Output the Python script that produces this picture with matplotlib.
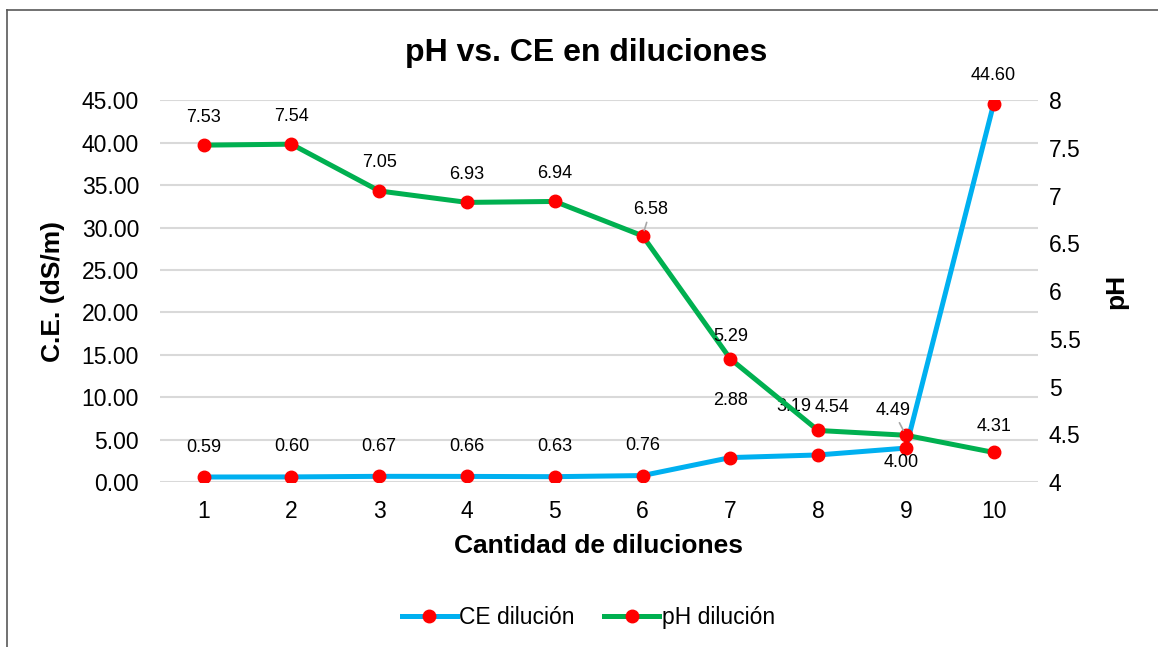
import matplotlib.pyplot as plt
from matplotlib.lines import Line2D

plt.rcParams['font.family'] = ['Liberation Sans', 'DejaVu Sans']

diluciones = [1, 2, 3, 4, 5, 6, 7, 8, 9, 10]
ce = [0.59, 0.60, 0.67, 0.66, 0.63, 0.76, 2.88, 3.19, 4.00, 44.60]
ph = [7.53, 7.54, 7.05, 6.93, 6.94, 6.58, 5.29, 4.54, 4.49, 4.31]

# label offsets in pixels (dx, dy)
ce_off = [(0, 30)] * 6 + [(0, 57), (-24, 48), (-5, -14), (0, 28)]
ph_off = [(0, 28)] * 5 + [(8, 26), (0, 22), (14, 23), (-13, 25), (0, 26)]
ph_leader = [5, 8]

blue = '#00b0f0'
green = '#00b050'
grid_c = '#d9d9d9'

fig = plt.figure(figsize=(11.58, 6.47), dpi=100)
ax = fig.add_axes([0.138, 0.255, 0.758, 0.59])
ax2 = ax.twinx()

ax.plot(diluciones, ce, color=blue, lw=3.6, marker='o', ms=9,
        mfc='red', mec='red', zorder=3)
ax2.plot(diluciones, ph, color=green, lw=3.6, marker='o', ms=9,
         mfc='red', mec='red', zorder=3)

ax.set_ylim(0, 45)
ax.set_yticks(range(0, 46, 5))
ax.set_yticklabels(['%.2f' % v for v in range(0, 46, 5)])
ax2.set_ylim(4, 8)
ticks2 = [4, 4.5, 5, 5.5, 6, 6.5, 7, 7.5, 8]
ax2.set_yticks(ticks2)
ax2.set_yticklabels(['%g' % v for v in ticks2])
ax.set_xlim(0.5, 10.5)
ax.set_xticks(diluciones)

for a in (ax, ax2):
    for s in a.spines.values():
        s.set_visible(False)
    a.tick_params(length=0, labelsize=16.5)
ax.tick_params(axis='y', pad=15)
ax.tick_params(axis='x', pad=13)
ax2.tick_params(axis='y', pad=8)
ax.grid(axis='y', color=grid_c, lw=1.5)
ax.set_axisbelow(True)

for i, (x, y) in enumerate(zip(diluciones, ce)):
    ax.annotate('%.2f' % y, (x, y), xytext=ce_off[i], textcoords='offset pixels',
                ha='center', va='center', fontsize=13, zorder=5)
for i, (x, y) in enumerate(zip(diluciones, ph)):
    props = dict(arrowstyle='-', color='#a6a6a6', lw=1.2, shrinkA=1, shrinkB=4) if i in ph_leader else None
    ax2.annotate('%.2f' % y, (x, y), xytext=ph_off[i], textcoords='offset pixels',
                 ha='center', va='center', fontsize=13, arrowprops=props, zorder=5)

ax.set_xlabel('Cantidad de diluciones', fontsize=19, fontweight='bold', labelpad=8)
ax.set_ylabel('C.E. (dS/m)', fontsize=19, fontweight='bold', labelpad=12)
ax2.set_ylabel('pH', fontsize=19, fontweight='bold', labelpad=17)
fig.text(0.506, 0.918, 'pH vs. CE en diluciones', ha='center', va='center',
         fontsize=23, fontweight='bold')

handles = [Line2D([], [], color=blue, lw=3.6, marker='o', ms=9, mfc='red', mec='red'),
           Line2D([], [], color=green, lw=3.6, marker='o', ms=9, mfc='red', mec='red')]
fig.legend(handles, ['CE dilución', 'pH dilución'], loc='center', bbox_to_anchor=(0.508, 0.046),
           ncol=2, frameon=False, fontsize=16.5, handlelength=2.4, handletextpad=0.1,
           columnspacing=1.3)

# chart border (only left and top edges fall inside the picture)
fig.add_artist(Line2D([7 / 1158, 7 / 1158], [0, 1 - 10 / 647], color='#595959', lw=1.2))
fig.add_artist(Line2D([7 / 1158, 1], [1 - 10 / 647, 1 - 10 / 647], color='#595959', lw=1.2))

fig.savefig('out.png', dpi=100)
